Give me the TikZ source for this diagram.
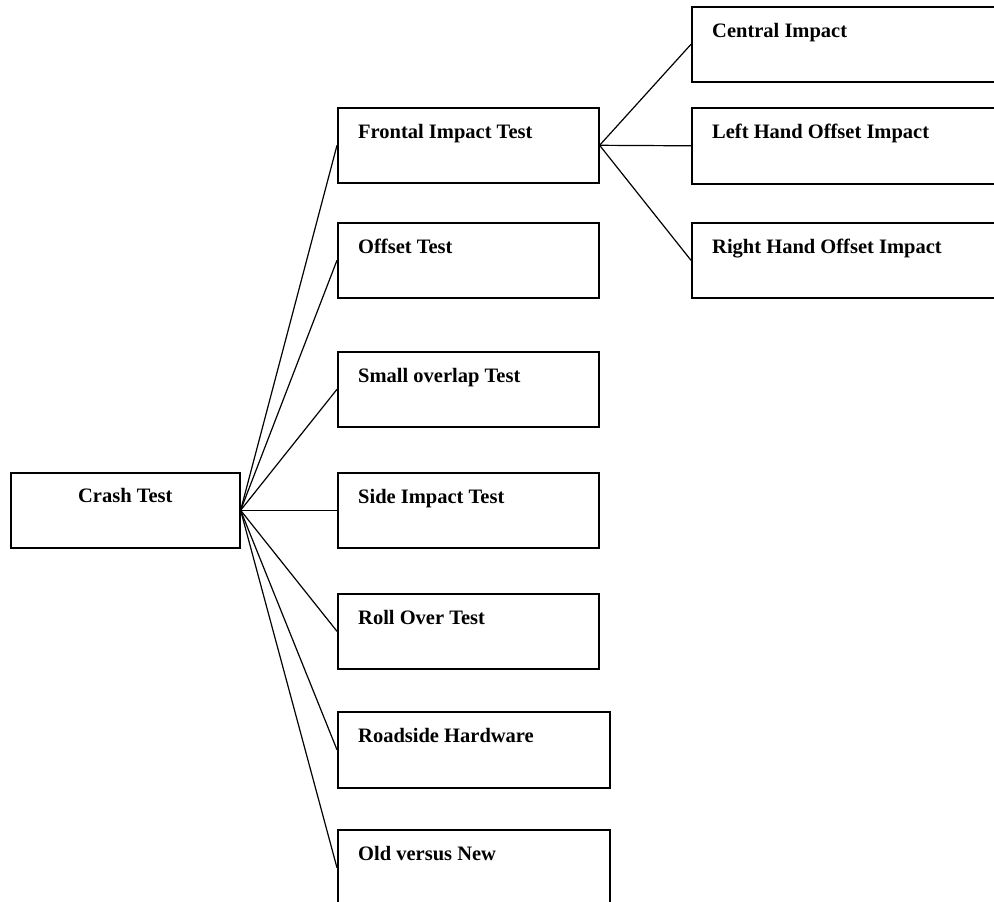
\documentclass[tikz,border=0pt]{standalone}
\usepackage{fontspec}
\setmainfont{Liberation Serif}
\begin{document}
\begin{tikzpicture}[x=1pt,y=-1pt,
  box/.style={draw, line width=1.6pt, rectangle, inner sep=0pt, anchor=north west},
  lbl/.style={anchor=base west, inner sep=0pt, font=\fontsize{20.5}{24}\selectfont\bfseries},
  conn/.style={line width=1.2pt}]
\useasboundingbox (0,0) rectangle (994,902);
\clip (0,0) rectangle (994,902);
% boxes
\node[box, minimum width=229, minimum height=75] (crash) at (10,472) {};
\node[box, minimum width=261, minimum height=75] (frontal) at (337,107) {};
\node[box, minimum width=261, minimum height=75] (offset) at (337,222) {};
\node[box, minimum width=261, minimum height=75] (small) at (337,351) {};
\node[box, minimum width=261, minimum height=75] (side) at (337,472) {};
\node[box, minimum width=261, minimum height=75] (roll) at (337,593) {};
\node[box, minimum width=272, minimum height=76] (road) at (337,711) {};
\node[box, minimum width=272, minimum height=76] (old) at (337,829) {};
\node[box, minimum width=320, minimum height=75] (central) at (691,6) {};
\node[box, minimum width=320, minimum height=76] (lefth) at (691,107) {};
\node[box, minimum width=320, minimum height=75] (righth) at (691,222) {};
% labels
\node[lbl, anchor=base] (tcrash) at ([yshift=-30pt]crash.north) {Crash Test};
\node[lbl] (tfrontal) at ([xshift=21pt,yshift=-31pt]frontal.north west) {Frontal Impact Test};
\node[lbl] (toffset) at ([xshift=21pt,yshift=-31pt]offset.north west) {Offset Test};
\node[lbl] (tsmall) at ([xshift=21pt,yshift=-31pt]small.north west) {Small overlap Test};
\node[lbl] (tside) at ([xshift=21pt,yshift=-31pt]side.north west) {Side Impact Test};
\node[lbl] (troll) at ([xshift=21pt,yshift=-31pt]roll.north west) {Roll Over Test};
\node[lbl] (troad) at ([xshift=21pt,yshift=-31pt]road.north west) {Roadside Hardware};
\node[lbl] (told) at ([xshift=21pt,yshift=-31pt]old.north west) {Old versus New};
\node[lbl] (tcentral) at ([xshift=21pt,yshift=-31pt]central.north west) {Central Impact};
\node[lbl] (tlefth) at ([xshift=21pt,yshift=-31pt]lefth.north west) {Left Hand Offset Impact};
\node[lbl] (trighth) at ([xshift=21pt,yshift=-31pt]righth.north west) {Right Hand Offset Impact};
% connectors
\foreach \t in {frontal,offset,small,side,roll,road,old}
  \draw[conn] (crash.east) -- (\t.west);
\foreach \t in {central,lefth,righth}
  \draw[conn] (frontal.east) -- (\t.west);
\end{tikzpicture}
\end{document}
